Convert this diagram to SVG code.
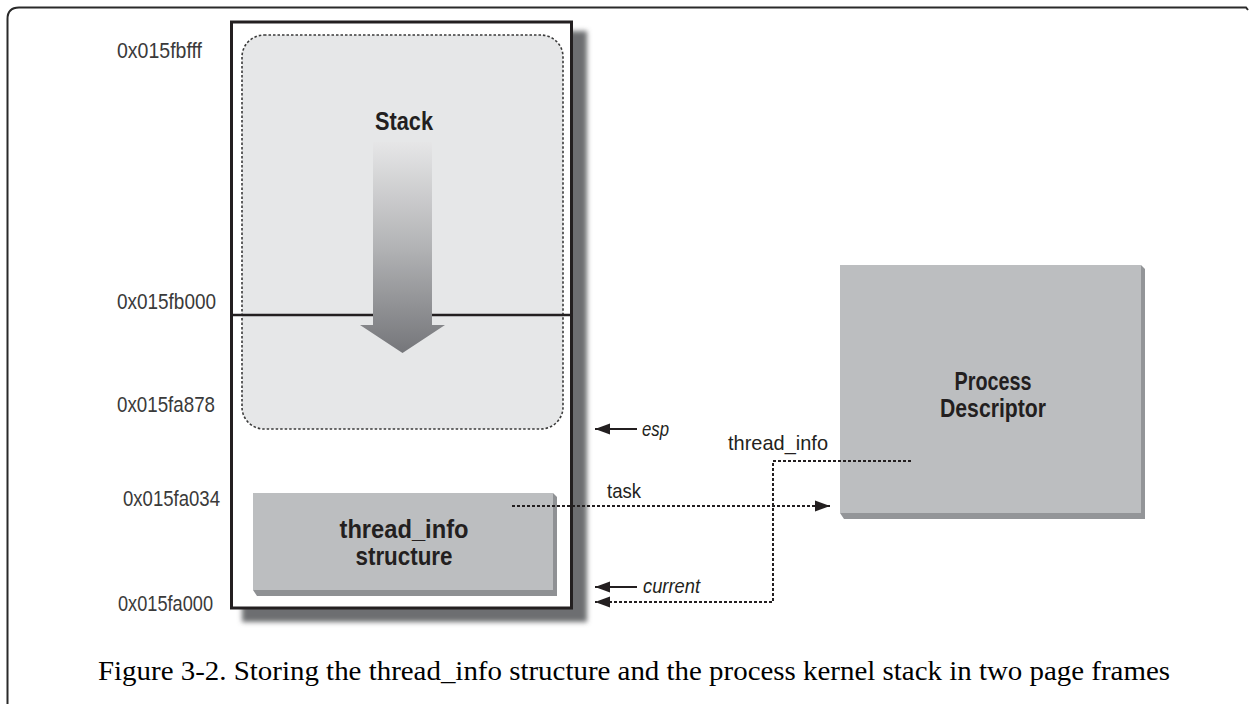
<svg xmlns="http://www.w3.org/2000/svg" width="1250" height="704" viewBox="0 0 1250 704">
  <style>
    .addr { font-family: "Liberation Sans", Arial, sans-serif; font-size: 22px; fill: #3a3a3a; }
    .lbl { font-family: "Liberation Sans", Arial, sans-serif; font-size: 21px; fill: #231f20; }
    .ital { font-family: "Liberation Sans", Arial, sans-serif; font-size: 21px; font-style: italic; fill: #231f20; }
    .bold { font-family: "Liberation Sans", Arial, sans-serif; font-size: 25px; font-weight: bold; fill: #231f20; }
    .dash { fill: none; stroke: #231f20; stroke-width: 2; stroke-dasharray: 3 2; }
    .solid { fill: none; stroke: #231f20; stroke-width: 2.2; }
    .caption { font-family: "Liberation Serif", "Times New Roman", serif; font-size: 28px; fill: #000; }
  </style>
  <defs>
    <linearGradient id="arrowGrad" x1="0" y1="142" x2="0" y2="353" gradientUnits="userSpaceOnUse">
      <stop offset="0" stop-color="#e6e6e7"/>
      <stop offset="0.5" stop-color="#b2b3b5"/>
      <stop offset="1" stop-color="#75767a"/>
    </linearGradient>
    <filter id="blur" x="-10%" y="-10%" width="120%" height="120%">
      <feGaussianBlur stdDeviation="2.5"/>
    </filter>
    <marker id="head" markerUnits="userSpaceOnUse" markerWidth="16" markerHeight="12" refX="15" refY="6" orient="auto">
      <path d="M0,0.5 L15,6 L0,11.5 z" fill="#231f20"/>
    </marker>
  </defs>

  <rect width="1250" height="704" fill="#ffffff"/>

  <g id="frame">
    <path d="M7.5,704 V19 Q7.5,7.5 19,7.5 H1246 L1248,10" fill="none" stroke="#2a2a2a" stroke-width="2"/>
  </g>

  <g id="page-frames">
    <rect x="242" y="31" width="345" height="591" fill="#6d6e71" filter="url(#blur)"/>
    <rect x="231.5" y="22" width="340" height="586" fill="#ffffff" stroke="#231f20" stroke-width="3"/>
  </g>

  <g id="stack">
    <rect x="242" y="35" width="321" height="394" rx="22" ry="22" fill="#e6e7e8" stroke="#3a3a3a" stroke-width="1.6" stroke-dasharray="2.5 2"/>
    <line x1="230" y1="315" x2="573" y2="315" stroke="#231f20" stroke-width="2.5"/>
    <polygon points="373,142 432,142 432,325 445,325 402.5,353 360,325 373,325" fill="url(#arrowGrad)"/>
    <text class="bold" x="404" y="130" text-anchor="middle" textLength="58" lengthAdjust="spacingAndGlyphs">Stack</text>
  </g>

  <g id="thread-info">
    <polygon points="553,493 557,497 557,596 257,596 253,590 553,590" fill="#8f9194"/>
    <rect x="253" y="493" width="300" height="97" fill="#bcbec0"/>
    <text class="bold" x="404" y="538" text-anchor="middle" textLength="129" lengthAdjust="spacingAndGlyphs">thread_info</text>
    <text class="bold" x="404" y="565" text-anchor="middle" textLength="97" lengthAdjust="spacingAndGlyphs">structure</text>
  </g>

  <g id="process-descriptor">
    <polygon points="1141,265 1145,269 1145,519 844,519 840,513 1141,513" fill="#939598"/>
    <rect x="840" y="265" width="301" height="248" fill="#bcbec0"/>
    <text class="bold" x="993" y="390" text-anchor="middle" textLength="77" lengthAdjust="spacingAndGlyphs">Process</text>
    <text class="bold" x="993" y="417" text-anchor="middle" textLength="106" lengthAdjust="spacingAndGlyphs">Descriptor</text>
  </g>

  <g id="addresses">
    <text class="addr" x="117" y="58" textLength="85" lengthAdjust="spacingAndGlyphs">0x015fbfff</text>
    <text class="addr" x="117" y="309" textLength="99" lengthAdjust="spacingAndGlyphs">0x015fb000</text>
    <text class="addr" x="117" y="412" textLength="98" lengthAdjust="spacingAndGlyphs">0x015fa878</text>
    <text class="addr" x="123" y="506" textLength="97" lengthAdjust="spacingAndGlyphs">0x015fa034</text>
    <text class="addr" x="118" y="611" textLength="95" lengthAdjust="spacingAndGlyphs">0x015fa000</text>
  </g>

  <g id="connectors">
    <line class="solid" x1="637" y1="429" x2="595" y2="429" marker-end="url(#head)"/>
    <line class="solid" x1="637" y1="587" x2="595" y2="587" marker-end="url(#head)"/>
    <line class="dash" x1="512" y1="506" x2="830" y2="506" marker-end="url(#head)"/>
    <polyline class="dash" points="911,461 773,461 773,602 595,602" marker-end="url(#head)"/>
  </g>

  <g id="labels">
    <text class="ital" x="642" y="436" textLength="27" lengthAdjust="spacingAndGlyphs">esp</text>
    <text class="ital" x="643" y="593" textLength="57" lengthAdjust="spacingAndGlyphs">current</text>
    <text class="lbl" x="607" y="498" textLength="34" lengthAdjust="spacingAndGlyphs">task</text>
    <text class="lbl" x="728" y="450" textLength="100" lengthAdjust="spacingAndGlyphs">thread_info</text>
  </g>

  <g id="caption">
    <text class="caption" x="98" y="680" textLength="1072" lengthAdjust="spacingAndGlyphs">Figure 3-2. Storing the thread_info structure and the process kernel stack in two page frames</text>
  </g>
</svg>
